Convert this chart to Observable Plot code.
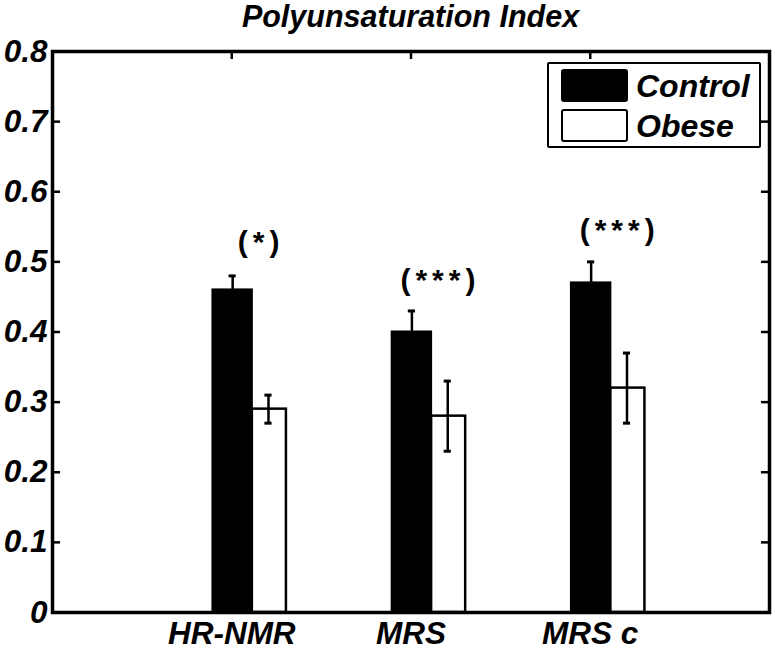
<!DOCTYPE html>
<html>
<head>
<meta charset="utf-8">
<script src="https://cdn.jsdelivr.net/npm/d3@7"></script>
<script src="https://cdn.jsdelivr.net/npm/@observablehq/plot@0.6"></script>
<style>
  html, body { margin: 0; padding: 0; background: #fff; }
  #wrap { position: relative; width: 775px; height: 653px; overflow: hidden; }
  .bi { font-family: "Liberation Sans", Arial, sans-serif; font-weight: bold; font-style: italic; color: #000; }
  #title { position: absolute; left: 52px; width: 717px; top: 0px; height: 33px; text-align: center; font-size: 30.5px; line-height: 33px; white-space: nowrap; }
  #legend { position: absolute; left: 547px; top: 62px; width: 210px; height: 82px; border: 2px solid #000; background: #fff; border-radius: 2px; }
  .sw { position: absolute; left: 12px; width: 67px; height: 33px; box-sizing: border-box; border: 2px solid #000; border-radius: 3px; }
  .lt { position: absolute; left: 87px; font-size: 32px; line-height: 32px; white-space: nowrap; }
  g[aria-label="text"] text { letter-spacing: 5px; }
</style>
</head>
<body>
<div id="wrap"></div>
<script>
// ---- data ----
const categories = ["HR-NMR", "MRS", "MRS c"];
const controlValues = [0.46, 0.40, 0.47];
const controlErrors = [0.02, 0.03, 0.03];
const obeseValues = [0.29, 0.28, 0.32];
const obeseErrors = [0.02, 0.05, 0.05];
const significance = ["(*)", "(***)", "(***)"];
const significanceY = [0.528, 0.473, 0.545];
const yTicks = [0, 0.1, 0.2, 0.3, 0.4, 0.5, 0.6, 0.7, 0.8];
const yTickLabels = ["0", "0.1", "0.2", "0.3", "0.4", "0.5", "0.6", "0.7", "0.8"];
const seriesNames = ["Control", "Obese"];
const titleText = "Polyunsaturation Index";

// ---- layout (styles only) ----
const ctrl = {x1: -0.105, x2: 0.115, err: 0.005};
const obes = {x1: 0.115, x2: 0.305, err: 0.205};
const annX = 0.15;
const capHalf = 0.02;
const tickLenX = 0.045;   // ~8px in x units
const tickLenY = 0.0114;  // ~8px in y units

const rows = categories.map((c, k) => ({
  i: k + 1, cat: c,
  cv: controlValues[k], ce: controlErrors[k],
  ov: obeseValues[k], oe: obeseErrors[k],
  sig: significance[k], sy: significanceY[k]
}));

const font = {fontFamily: "Liberation Sans, Arial, sans-serif", fontWeight: "bold", fontStyle: "italic", fontSize: 31.5};

const plot = Plot.plot({
  width: 775,
  height: 653,
  marginLeft: 52,
  marginRight: 6,
  marginTop: 51,
  marginBottom: 41,
  style: {fontFamily: "Liberation Sans, Arial, sans-serif", color: "#000", background: "#fff"},
  x: {domain: [0, 4]},
  y: {domain: [0, 0.8]},
  marks: [
    // bars
    Plot.rectY(rows, {x1: d => d.i + ctrl.x1, x2: d => d.i + ctrl.x2, y1: 0, y2: "cv", fill: "#000", stroke: "#000", strokeWidth: 2}),
    Plot.rectY(rows, {x1: d => d.i + obes.x1, x2: d => d.i + obes.x2, y1: 0, y2: "ov", fill: "#fff", stroke: "#000", strokeWidth: 2.5}),
    // error bars
    Plot.ruleX(rows, {x: d => d.i + ctrl.err, y1: d => d.cv - d.ce, y2: d => d.cv + d.ce, stroke: "#000", strokeWidth: 2.5}),
    Plot.ruleY(rows, {y: d => d.cv + d.ce, x1: d => d.i + ctrl.err - capHalf, x2: d => d.i + ctrl.err + capHalf, stroke: "#000", strokeWidth: 3}),
    Plot.ruleY(rows, {y: d => d.cv - d.ce, x1: d => d.i + ctrl.err - capHalf, x2: d => d.i + ctrl.err + capHalf, stroke: "#000", strokeWidth: 3}),
    Plot.ruleX(rows, {x: d => d.i + obes.err, y1: d => d.ov - d.oe, y2: d => d.ov + d.oe, stroke: "#000", strokeWidth: 2.5}),
    Plot.ruleY(rows, {y: d => d.ov + d.oe, x1: d => d.i + obes.err - capHalf, x2: d => d.i + obes.err + capHalf, stroke: "#000", strokeWidth: 3}),
    Plot.ruleY(rows, {y: d => d.ov - d.oe, x1: d => d.i + obes.err - capHalf, x2: d => d.i + obes.err + capHalf, stroke: "#000", strokeWidth: 3}),
    // significance annotations
    Plot.text(rows, {x: d => d.i + annX, y: "sy", text: "sig", fontFamily: "Liberation Sans, Arial, sans-serif", fontWeight: "bold", fontSize: 30, fill: "#000", textAnchor: "middle", lineAnchor: "middle", dx: 2.5}),
    // inward ticks
    Plot.ruleY(yTicks, {y: d => d, x1: 0, x2: tickLenX, stroke: "#000", strokeWidth: 2.5}),
    Plot.ruleY(yTicks, {y: d => d, x1: 4 - tickLenX, x2: 4, stroke: "#000", strokeWidth: 2.5}),
    Plot.ruleX(rows, {x: "i", y1: 0.8, y2: 0.8 - tickLenY, stroke: "#000", strokeWidth: 2.5}),
    Plot.ruleX(rows, {x: "i", y1: 0, y2: tickLenY, stroke: "#000", strokeWidth: 2.5}),
    Plot.frame({stroke: "#000", strokeWidth: 3.5}),
    // axes
    Plot.axisY({ticks: yTicks, tickFormat: d => yTickLabels[yTicks.indexOf(d)], tickSize: 0, tickPadding: 5, label: null, ...font}),
    Plot.axisX({ticks: rows.map(d => d.i), tickFormat: d => categories[d - 1], tickSize: 0, tickPadding: 9, label: null, ...font})
  ]
});

const wrap = document.getElementById("wrap");
wrap.appendChild(plot);

const title = document.createElement("div");
title.id = "title"; title.className = "bi"; title.textContent = titleText;
wrap.appendChild(title);

const legend = document.createElement("div");
legend.id = "legend";
const items = [{name: seriesNames[0], fill: "#000", top: 5}, {name: seriesNames[1], fill: "#fff", top: 45}];
for (const it of items) {
  const sw = document.createElement("div");
  sw.className = "sw"; sw.style.top = it.top + "px"; sw.style.background = it.fill;
  legend.appendChild(sw);
  const t = document.createElement("div");
  t.className = "lt bi"; t.style.top = (it.top + 1) + "px"; t.textContent = it.name;
  legend.appendChild(t);
}
wrap.appendChild(legend);
</script>
</body>
</html>
